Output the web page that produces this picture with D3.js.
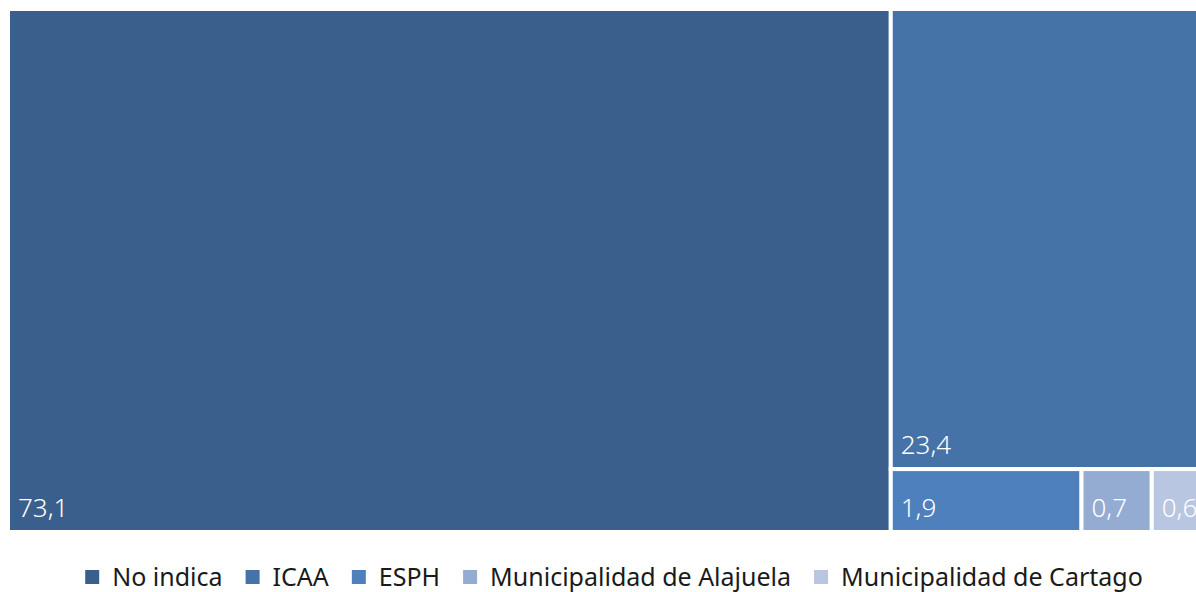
<!DOCTYPE html>
<html>
<head>
<meta charset="utf-8">
<script src="https://cdn.jsdelivr.net/npm/d3@7"></script>
<style>
  html, body { margin: 0; padding: 0; background: #fff; }
  svg { display: block; font-family: "Segoe UI", "Noto Sans", "Open Sans", sans-serif; }
</style>
</head>
<body>
<svg id="chart" width="1196" height="592"></svg>
<script>
const categories = ["No indica", "ICAA", "ESPH", "Municipalidad de Alajuela", "Municipalidad de Cartago"];
const values = [73.1, 23.4, 1.9, 0.7, 0.6];
const labels = ["73,1", "23,4", "1,9", "0,7", "0,6"];
const colors = ["#3B5F8C", "#4573A7", "#4E80BD", "#94ABD2", "#B8C6E1"];

const svg = d3.select("#chart");
const plot = { x: 8, y: 9, w: 1204, h: 523 };

const root = d3.hierarchy({ children: categories.map((c, i) => ({ name: c, value: values[i], i })) })
  .sum(d => d.value || 0);

d3.treemap()
  .tile(d3.treemapSquarify)
  .size([plot.w, plot.h])
  .paddingInner(0)
  .round(false)(root);

const g = svg.append("g").attr("transform", `translate(${plot.x},${plot.y})`);
const leaves = g.selectAll("g.leaf").data(root.leaves()).join("g").attr("class", "leaf");

leaves.append("rect")
  .attr("x", d => d.x0)
  .attr("y", d => d.y0)
  .attr("width", d => d.x1 - d.x0)
  .attr("height", d => d.y1 - d.y0)
  .attr("fill", d => colors[d.data.i])
  .attr("stroke", "#fff")
  .attr("stroke-width", 4);

leaves.append("text")
  .attr("x", d => d.x0 + 10)
  .attr("y", d => d.y1 - 15)
  .attr("fill", "#fff")
  .attr("font-size", 26)
  .attr("font-weight", 300)
  .text(d => labels[d.data.i]);

// Legend
const legend = svg.append("g");
const fs = 25, sq = 14, gapSq = 13, gapItem = 23;
let xs = 0;
const items = categories.map((c, i) => {
  const t = legend.append("text").attr("font-size", fs).attr("fill", "#1a1a1a").text(c);
  const w = t.node().getComputedTextLength();
  const item = { t, x: xs, w, i };
  xs += sq + gapSq + w + gapItem;
  return item;
});
const total = xs - gapItem;
const startX = 614 - total / 2;
const ly = 577;
items.forEach(it => {
  legend.append("rect")
    .attr("x", startX + it.x)
    .attr("y", ly - sq / 2)
    .attr("width", sq).attr("height", sq)
    .attr("fill", colors[it.i]);
  it.t.attr("x", startX + it.x + sq + gapSq).attr("y", ly).attr("dy", "0.35em");
});
</script>
</body>
</html>
